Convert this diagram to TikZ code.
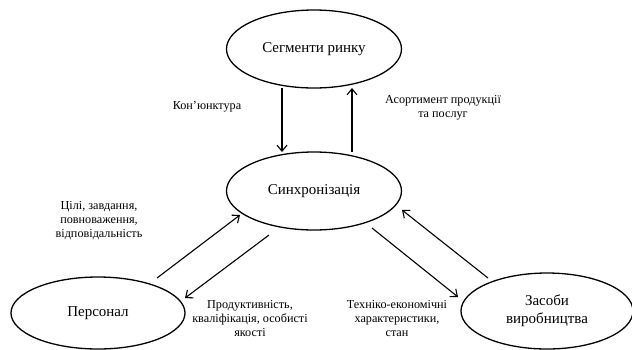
\documentclass[tikz,border=0pt]{standalone}
\usepackage{fontspec}
\setmainfont{Liberation Serif}
\usetikzlibrary{shapes.geometric,arrows.meta,calc}
\begin{document}
\begin{tikzpicture}[x=1pt,y=-1pt,
  oval/.style={draw,line width=1.3pt,ellipse,inner sep=0pt,outer sep=0pt,font=\fontsize{15}{18}\selectfont,align=center},
  lbl/.style={font=\fontsize{12.2}{14}\selectfont,align=center,inner sep=0pt},
  arr/.style={line width=1.1pt,-{Straight Barb[length=6pt,width=10pt,line width=1.1pt]}}]
\useasboundingbox (0,0) rectangle (632,349);
\clip (0,0) rectangle (632,349);
\node[oval,minimum width=175pt,minimum height=78pt] (seg) at (314,49) {Сегменти ринку};
\node[oval,minimum width=175pt,minimum height=78pt] (syn) at (314,191) {Синхронізація};
\node[oval,minimum width=174pt,minimum height=72pt] (per) at (98,313) {Персонал};
\node[oval,minimum width=172pt,minimum height=76pt] (zas) at (547,311) {Засоби\\виробництва};
\draw[arr] ($(seg.center)+(-32,39)$) -- ($(syn.center)+(-32,-39)$);
\draw[arr] ($(syn.center)+(38,-39)$) -- ($(seg.center)+(38,39)$);
\draw[arr] ($(per.center)+(59,-35)$) -- ($(syn.center)+(-74,24)$);
\draw[arr] ($(syn.center)+(-45,44)$) -- ($(per.center)+(87,-15)$);
\draw[arr] ($(syn.center)+(58,37)$) -- ($(zas.center)+(-89,-14)$);
\draw[arr] ($(zas.center)+(-59,-33)$) -- ($(syn.center)+(88,19)$);
\node[lbl] (l1) at (207,107) {Кон’юнктура};
\node[lbl] (l2) at (443,108) {Асортимент продукції\\та послуг};
\node[lbl] (l3) at (99,221) {Цілі, завдання,\\повноваження,\\відповідальність};
\node[lbl] (l4) at (250,319) {Продуктивність,\\кваліфікація, особисті\\якості};
\node[lbl] (l5) at (397,319) {Техніко-економічні\\характеристики,\\стан};
\end{tikzpicture}
\end{document}
